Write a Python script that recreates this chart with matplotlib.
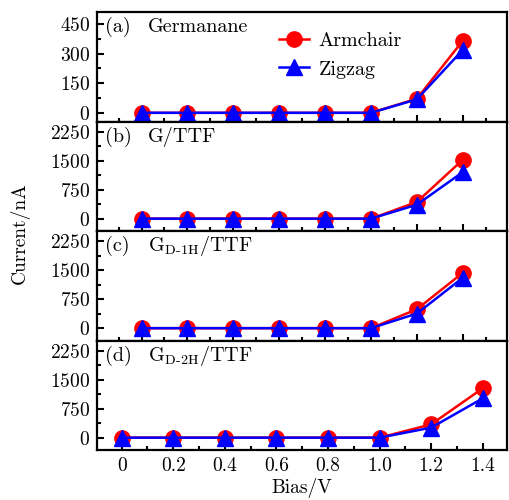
import matplotlib
matplotlib.use("Agg")
import matplotlib.pyplot as plt
from matplotlib.ticker import MultipleLocator, FixedLocator

plt.rcParams['font.family'] = ['cmr10']
plt.rcParams['mathtext.fontset'] = 'cm'
plt.rcParams['axes.formatter.use_mathtext'] = True
plt.rcParams['font.size'] = 14

bias = [0, 0.2, 0.4, 0.6, 0.8, 1.0, 1.2, 1.4]
germ_arm = [0, 0, 0, 0, 0, 0, 71, 364]
germ_zig = [0, 0, 0, 0, 0, 0, 68, 318]
gttf_arm = [0, 0, 0, 0, 0, 0, 432, 1526]
gttf_zig = [0, 0, 0, 0, 0, 0, 362, 1207]
d1h_arm = [0, 0, 0, 0, 0, 0, 490, 1435]
d1h_zig = [0, 0, 0, 0, 0, 0, 378, 1306]
d2h_arm = [0, 0, 0, 0, 0, 0, 345, 1280]
d2h_zig = [0, 0, 0, 0, 0, 0, 260, 1020]

panel_tags = ['(a)', '(b)', '(c)', '(d)']
panel_names = ['Germanane', 'G/TTF', r'G$_{\mathrm{D\text{-}1H}}$/TTF', r'G$_{\mathrm{D\text{-}2H}}$/TTF']
series = [(germ_arm, germ_zig), (gttf_arm, gttf_zig), (d1h_arm, d1h_zig), (d2h_arm, d2h_zig)]
xtick_labels = ['0', '0.2', '0.4', '0.6', '0.8', '1.0', '1.2', '1.4']

fig = plt.figure(figsize=(5.09, 5.00), dpi=100)
gs = fig.add_gridspec(4, 1, left=97/509, right=507/509, top=1-12/500, bottom=1-450/500, hspace=0)

for i in range(4):
    ax = fig.add_subplot(gs[i])
    arm, zig = series[i]
    ax.plot(bias, arm, color='#ff0000', lw=1.8, marker='o', ms=11, label='Armchair', zorder=3)
    ax.plot(bias, zig, color='#0000ff', lw=1.8, marker='^', ms=11, label='Zigzag', zorder=4)
    if i == 0:
        ax.set_ylim(-44, 510)
        ax.set_yticks([0, 150, 300, 450])
        ax.yaxis.set_minor_locator(MultipleLocator(75))
    else:
        ax.set_ylim(-320, 2520)
        ax.set_yticks([0, 750, 1500, 2250])
        ax.yaxis.set_minor_locator(MultipleLocator(375))
    if i < 3:
        ax.set_xlim(-0.194, 1.593)
        ax.set_xticks(bias)
        ax.xaxis.set_minor_locator(FixedLocator([-0.1, 0.1, 0.3, 0.5, 0.7, 0.9, 1.1, 1.3, 1.5]))
        ax.set_xticklabels([])
    else:
        ax.set_xlim(-0.0955, 1.494)
        ax.set_xticks(bias)
        ax.set_xticklabels(xtick_labels)
        ax.xaxis.set_minor_locator(FixedLocator([0.1, 0.3, 0.5, 0.7, 0.9, 1.1, 1.3]))
        ax.set_xlabel('Bias/V', labelpad=2)
    ax.tick_params(which='both', direction='in', top=False, right=False, width=1.5)
    ax.tick_params(which='major', length=5, pad=5)
    ax.tick_params(which='minor', length=3)
    for s in ax.spines.values():
        s.set_linewidth(1.6)
    ax.text(0.02, 0.86, panel_tags[i], transform=ax.transAxes, ha='left', va='center', fontsize=14.5)
    ax.text(0.125, 0.86, panel_names[i], transform=ax.transAxes, ha='left', va='center', fontsize=14.5)
    if i == 0:
        ax.legend(loc='upper left', bbox_to_anchor=(0.445, 0.815), frameon=False,
                  handlelength=1.45, handletextpad=0.5, labelspacing=0.5,
                  borderpad=0, borderaxespad=0, fontsize=14.5)

fig.text(20/509, 1-233/500, 'Current/nA', rotation=90, ha='center', va='center')
fig.savefig('out.png', dpi=100)
